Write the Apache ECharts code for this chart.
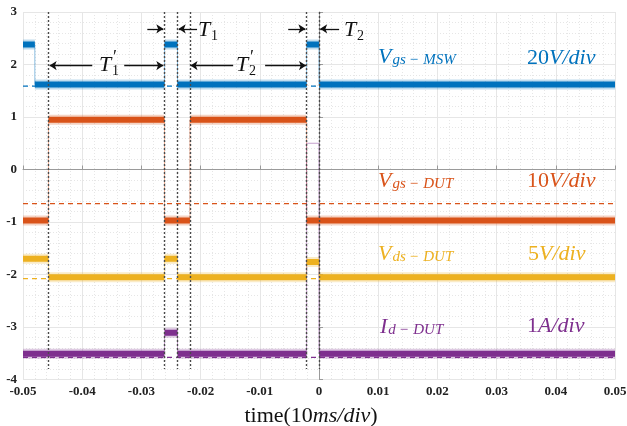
<!DOCTYPE html>
<html>
<head>
<meta charset="utf-8">
<script src="https://cdn.jsdelivr.net/npm/echarts@6/dist/echarts.min.js"></script>
<style>
  html, body { margin: 0; padding: 0; background: #fff; }
  #chart { width: 627px; height: 426px; }
</style>
</head>
<body>
<div id="chart"></div>
<script>
// ---- waveform levels (div units) between switching instants (s) ----
const mswEdges   = [-0.05, -0.0480, -0.0261, -0.0239, -0.0021, 0.0000, 0.05];
const mswLevels  = [2.38, 1.62, 2.38, 1.62, 2.38, 1.62];

const gsDutEdges  = [-0.05, -0.0457, -0.0261, -0.0218, -0.0021, 0.05];
const gsDutLevels = [-0.97, 0.95, -0.97, 0.95, -0.97];

const dsDutEdges  = [-0.05, -0.0457, -0.0261, -0.0239, -0.0021, 0.0000, 0.05];
const dsDutLevels = [-1.70, -2.05, -1.70, -2.05, -1.76, -2.05];

const idDutEdges  = [-0.05, -0.0261, -0.0239, -0.0021, 0.0000, 0.05];
const idDutLevels = [-3.51, -3.11, -3.51, 0.50, -3.51];
const idDutFaintSegments = [3];   // trace off-scale, only a faint line visible

// zero reference of each channel
const refLevels = [1.59, -0.65, -2.08, -3.58];

// instants marked by dotted cursors
const cursorTimes = [-0.0457, -0.0261, -0.0239, -0.0218, -0.0021, 0.0000];
const cursorTop = 3;
const cursorBottom = -3.8;

// interval arrows: [tail time, head time, level]
const spanArrows = [
  [-0.0383, -0.0455, 1.98], [-0.0329, -0.0263, 1.98],
  [-0.0145, -0.0217, 1.98], [-0.0091, -0.0022, 1.98],
  [-0.0290, -0.0263, 2.68], [-0.0206, -0.0237, 2.68],
  [-0.0052, -0.0023, 2.68], [0.0034, 0.0002, 2.68]
];

// axes
const xMin = -0.05, xMax = 0.05, xStep = 0.01;
const yMin = -4, yMax = 3, yStep = 1;

const COLORS = ['#0072BD', '#D95319', '#EDB120', '#7E2F8E'];
const SERIF = '"Liberation Serif", "DejaVu Serif", serif';

function plateaus(edges, levels, skip) {
  const out = [];
  for (let i = 0; i < levels.length; i++) {
    if (skip && skip.indexOf(i) >= 0) continue;
    out.push([edges[i], levels[i]], [edges[i + 1], levels[i]], [edges[i + 1], '-']);
  }
  return out;
}
function steps(edges, levels) {
  const out = [];
  for (let i = 0; i < levels.length; i++) {
    out.push([edges[i], levels[i]], [edges[i + 1], levels[i]]);
  }
  return out;
}

const channels = [
  { edges: mswEdges, levels: mswLevels, skip: [] },
  { edges: gsDutEdges, levels: gsDutLevels, skip: [] },
  { edges: dsDutEdges, levels: dsDutLevels, skip: [] },
  { edges: idDutEdges, levels: idDutLevels, skip: idDutFaintSegments }
];

const series = [];

// dashed zero references, full width
refLevels.forEach((v, i) => {
  series.push({
    type: 'line', data: [[xMin, v], [xMax, v]], showSymbol: false, silent: true, z: 1,
    color: COLORS[i],
    lineStyle: { color: COLORS[i], type: [5, 4], width: 1.3 }
  });
});

channels.forEach((ch, i) => {
  // faint transitions
  series.push({
    type: 'line', data: steps(ch.edges, ch.levels), showSymbol: false, silent: true,
    z: 2, color: COLORS[i], lineStyle: { color: COLORS[i], width: 1, opacity: 0.45 }
  });
  // noise fringe
  series.push({
    type: 'line', data: plateaus(ch.edges, ch.levels, ch.skip), showSymbol: false,
    connectNulls: false, silent: true, z: 3, color: COLORS[i],
    lineStyle: { color: COLORS[i], width: 10, opacity: 0.25 }
  });
  // trace body
  series.push({
    type: 'line', data: plateaus(ch.edges, ch.levels, ch.skip), showSymbol: false,
    connectNulls: false, silent: true, z: 4, color: COLORS[i],
    lineStyle: { color: COLORS[i], width: 6 }
  });
});

// dotted cursors
series.push({
  type: 'line', data: [], silent: true, z: 6, color: '#4a4a4a',
  markLine: {
    silent: true, animation: false, label: { show: false }, symbol: ['none', 'none'],
    lineStyle: { color: '#4a4a4a', type: [2, 2], width: 1.4, opacity: 1 },
    data: cursorTimes.map(t => [{ coord: [t, cursorTop] }, { coord: [t, cursorBottom] }])
  }
});
// interval arrows
series.push({
  type: 'line', data: [], silent: true, z: 6, color: '#111',
  markLine: {
    silent: true, animation: false, label: { show: false },
    symbol: ['none', 'arrow'], symbolSize: 7,
    lineStyle: { color: '#111', type: 'solid', width: 1.3, opacity: 1 },
    data: spanArrows.map(a => [{ coord: [a[0], a[2]] }, { coord: [a[1], a[2]] }])
  }
});

function rt(x, y, text, rich) {
  return {
    type: 'text', x: x, y: y, z: 20, silent: true,
    style: { text: text, rich: rich, verticalAlign: 'middle', align: 'left',
             font: '22px ' + SERIF }
  };
}
function labelRich(color) {
  return {
    m: { font: 'italic 22px ' + SERIF, fill: color },
    n: { font: '22px ' + SERIF, fill: color },
    s: { font: 'italic 15px ' + SERIF, fill: color, padding: [7, 0, 0, 1] },
    o: { font: '15px ' + SERIF, fill: color, padding: [7, 4, 0, 4] }
  };
}

const graphics = [
  rt(378, 57, '{m|V}{s|gs}{o|−}{s|MSW}', labelRich(COLORS[0])),
  rt(527, 58, '{n|20}{m|V/div}', labelRich(COLORS[0])),
  rt(378, 181, '{m|V}{s|gs}{o|−}{s|DUT}', labelRich(COLORS[1])),
  rt(527, 181, '{n|10}{m|V/div}', labelRich(COLORS[1])),
  rt(378, 254, '{m|V}{s|ds}{o|−}{s|DUT}', labelRich(COLORS[2])),
  rt(528, 254, '{n|5}{m|V/div}', labelRich(COLORS[2])),
  rt(380, 327, '{m|I}{s|d}{o|−}{s|DUT}', labelRich(COLORS[3])),
  rt(527, 326, '{n|1}{m|A/div}', labelRich(COLORS[3]))
];
function tLabel(x, y, sub, primed) {
  const black = '#111';
  graphics.push({ type: 'text', x: x, y: y, z: 20, silent: true,
    style: { text: 'T', fill: black, font: 'italic 22px ' + SERIF, verticalAlign: 'middle' } });
  if (primed) {
    graphics.push({ type: 'text', x: x + 14, y: y - 7, z: 20, silent: true,
      style: { text: '′', fill: black, font: '18px ' + SERIF, verticalAlign: 'middle' } });
  }
  graphics.push({ type: 'text', x: x + 13, y: y + 6, z: 20, silent: true,
    style: { text: sub, fill: black, font: '14px ' + SERIF, verticalAlign: 'middle' } });
}
tLabel(99, 65, '1', true);
tLabel(236, 65, '2', true);
tLabel(198, 30, '1', false);
tLabel(344, 30, '2', false);

const fmt = v => String(Number(v.toFixed(2)));

const option = {
  animation: false,
  backgroundColor: '#fff',
  grid: { left: 23, right: 12, top: 12, bottom: 46.5, containLabel: false, outerBoundsMode: 'none' },
  xAxis: {
    type: 'value', min: xMin, max: xMax, interval: xStep,
    name: '{r|time(10}{i|ms/div}{r|)}', nameLocation: 'middle', nameGap: 26,
    nameTextStyle: {
      padding: [0, 16, 0, 0],
      rich: {
        r: { fontFamily: 'Liberation Serif', fontSize: 22, color: '#111' },
        i: { fontFamily: 'Liberation Serif', fontSize: 22, fontStyle: 'italic', color: '#111' }
      }
    },
    axisLine: { show: true, lineStyle: { color: '#9a9a9a', width: 1 } },
    axisTick: { show: true, inside: true, length: 4, lineStyle: { color: '#9a9a9a' } },
    axisLabel: { formatter: fmt, fontFamily: 'Liberation Serif', fontWeight: 'bold', fontSize: 13,
                 color: '#222', margin: 6, showMinLabel: true, showMaxLabel: true },
    splitLine: { show: true, lineStyle: { color: '#e6e6e6', width: 1 } },
    minorTick: { show: false, splitNumber: 5 },
    minorSplitLine: { show: true, lineStyle: { color: '#e6e6e6', type: [1, 2], width: 1 } }
  },
  yAxis: {
    type: 'value', min: yMin, max: yMax, interval: yStep,
    axisLine: { show: true, lineStyle: { color: '#9a9a9a', width: 1 } },
    axisTick: { show: true, inside: true, length: 4, lineStyle: { color: '#9a9a9a' } },
    axisLabel: { fontFamily: 'Liberation Serif', fontWeight: 'bold', fontSize: 13, color: '#222', margin: 6 },
    splitLine: { show: true, lineStyle: { color: '#e6e6e6', width: 1 } },
    minorTick: { show: false, splitNumber: 5 },
    minorSplitLine: { show: true, lineStyle: { color: '#e6e6e6', type: [1, 2], width: 1 } }
  },
  series: series,
  graphic: graphics
};

const chart = echarts.init(document.getElementById('chart'), null, { renderer: 'canvas' });
chart.setOption(option);
</script>
</body>
</html>
